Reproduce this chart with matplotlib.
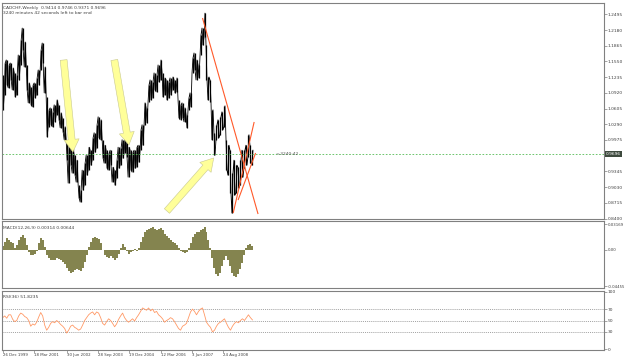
import matplotlib
matplotlib.use('Agg')
import matplotlib.pyplot as plt
import matplotlib.transforms as mtransforms
import numpy as np
import pandas as pd

plt.rcParams['font.family'] = ['DejaVu Sans']

# ---------------- data ----------------
start_date = pd.Timestamp('1999-12-26')
sample_step_weeks = 4.1   # each sample covers ~4 weekly bars

highs = [1.128, 1.152, 1.158, 1.148, 1.152, 1.142, 1.132, 1.128, 1.168, 1.198,
         1.222, 1.194, 1.148, 1.112, 1.104, 1.108, 1.112, 1.122, 1.138, 1.178,
         1.192, 1.144, 1.084, 1.058, 1.062, 1.054, 1.068, 1.078, 1.068, 1.052,
         1.042, 1.024, 0.998, 0.987, 0.991, 0.981, 0.967, 0.957, 0.907, 0.897,
         0.937, 0.951, 0.967, 0.983, 0.977, 1.002, 1.012, 1.028, 1.044, 1.038,
         0.998, 0.987, 0.977, 0.971, 0.977, 0.943, 0.937, 0.957, 0.983, 0.981,
         0.998, 1.004, 0.998, 0.983, 0.977, 0.973, 0.977, 0.983, 0.987, 1.018,
         1.028, 1.072, 1.062, 1.108, 1.118, 1.114, 1.132, 1.128, 1.148, 1.158,
         1.132, 1.122, 1.118, 1.114, 1.122, 1.124, 1.118, 1.122, 1.078, 1.068,
         1.072, 1.062, 1.048, 1.082, 1.092, 1.162, 1.172, 1.158, 1.148, 1.208,
         1.222, 1.252, 1.188, 1.124, 1.118, 1.058, 1.012, 1.028, 1.038, 1.044,
         1.054, 1.066, 0.998, 0.987, 0.977, 0.931, 0.957, 0.947, 0.943, 0.957,
         0.977, 0.977, 0.987, 1.008, 0.987, 0.977]
lows = [1.058, 1.088, 1.108, 1.102, 1.118, 1.098, 1.084, 1.088, 1.118, 1.148,
        1.178, 1.144, 1.098, 1.072, 1.068, 1.064, 1.082, 1.088, 1.108, 1.138,
        1.152, 1.092, 1.004, 1.024, 1.028, 1.024, 1.034, 1.048, 1.038, 1.022,
        1.014, 0.998, 0.957, 0.911, 0.947, 0.931, 0.927, 0.913, 0.881, 0.873,
        0.897, 0.907, 0.927, 0.937, 0.947, 0.957, 0.973, 0.981, 1.002, 0.998,
        0.961, 0.951, 0.941, 0.937, 0.947, 0.913, 0.907, 0.921, 0.941, 0.947,
        0.961, 0.971, 0.963, 0.923, 0.937, 0.933, 0.941, 0.943, 0.953, 0.977,
        0.987, 1.028, 1.032, 1.074, 1.078, 1.082, 1.098, 1.094, 1.114, 1.118,
        1.084, 1.088, 1.078, 1.082, 1.088, 1.098, 1.092, 1.094, 1.042, 1.038,
        1.042, 1.034, 1.022, 1.058, 1.064, 1.132, 1.138, 1.118, 1.122, 1.168,
        1.188, 1.204, 1.118, 1.078, 1.074, 0.998, 0.967, 0.998, 1.002, 1.008,
        1.018, 1.024, 0.937, 0.927, 0.891, 0.851, 0.887, 0.891, 0.901, 0.907,
        0.923, 0.941, 0.947, 0.963, 0.951, 0.947]

macd_hist = [5, 10, 14, 12, 10, 8, 2, 6, 12, 16,
             18, 14, 6, -3, -6, -7, -5, -2, 8, 14,
             12, 3, -6, -10, -12, -13, -12, -10, -11, -13,
             -15, -18, -22, -26, -28, -27, -25, -24, -25, -26,
             -22, -15, -6, 3, 10, 14, 16, 15, 13, 8,
             0, -6, -9, -10, -8, -10, -12, -10, -5, 2,
             7, 4, -2, -5, -3, -1, 1, -1, 2, 10,
             16, 22, 24, 26, 27, 28, 26, 24, 25, 27,
             24, 20, 17, 14, 12, 10, 8, 6, 2, -2,
             -3, -4, -3, 2, 8, 16, 20, 22, 22, 24,
             26, 28, 22, 12, 2, -10, -22, -30, -32, -28,
             -20, -12, -8, -12, -20, -28, -32, -33, -30, -24,
             -16, -6, 2, 6, 7, 5]   # x 0.001

rsi_values = [55, 58, 54, 60, 60, 52, 48, 50, 58, 63,
              61, 57, 55, 50, 40, 44, 42, 47, 56, 64,
              58, 42, 33, 38, 45, 48, 46, 50, 47, 43,
              40, 36, 28, 33, 40, 42, 38, 36, 33, 35,
              42, 50, 55, 60, 63, 65, 60, 65, 63, 55,
              45, 42, 48, 53, 50, 45, 39, 44, 52, 58,
              63, 55, 50, 47, 50, 53, 49, 55, 60, 66,
              72, 70, 68, 72, 67, 70, 64, 66, 60, 57,
              53, 47, 50, 52, 55, 53, 48, 42, 36, 33,
              40, 42, 45, 55, 65, 70, 66, 60, 66, 70,
              72, 60, 47, 42, 38, 30, 33, 40, 45, 47,
              50, 53, 45, 38, 33, 40, 45, 48, 46, 50,
              53, 50, 55, 60, 55, 51]

date_labels = ['26 Dec 1999', '18 Mar 2001', '30 Jun 2002', '28 Sep 2003',
               '19 Dec 2004', '12 Mar 2006', '3 Jun 2007', '24 Aug 2008']
price_ticks = [1.2495, 1.2180, 1.1865, 1.1550, 1.1235, 1.0920, 1.0605,
               1.0290, 0.9975, 0.9345, 0.9030, 0.8715, 0.8400]
macd_ticks = [0.03169, 0.0, -0.04455]
macd_tick_labels = ['0.03169', '0.00', '-0.04455']
rsi_levels = [70, 50, 30]
rsi_ticks = [100, 70, 50, 30, 0]
last_close = 0.9696
header_line1 = 'CADCHF,Weekly  0.9414 0.9746 0.9371 0.9696'
header_line2 = '3240 minutes 42 seconds left to bar end'
macd_label = 'MACD(12,26,9) 0.00314 0.00644'
rsi_label = 'RSI(36) 51.8235'
timer_label = '<-3240:42'

# trend lines and arrows: (date, price) pairs
trend_lines = [(('2007-11-04', 1.2422), ('2010-01-10', 0.849)),
               (('2009-01-18', 0.851), ('2009-11-15', 1.0336)),
               (('2009-03-29', 0.877), ('2009-12-06', 0.9714))]
arrows = [(('2002-05-19', 1.158), ('2002-09-29', 0.9734)),
          (('2004-05-16', 1.158), ('2004-12-12', 0.9874)),
          (('2006-06-11', 0.855), ('2008-04-13', 0.9614))]

# ---------------- drawing ----------------
def weeks(d):
    return (pd.Timestamp(d) - start_date).days / 7.0

x = np.arange(len(highs)) * sample_step_weeks
W, H = 625, 360
fig = plt.figure(figsize=(W / 100, H / 100), dpi=100)
fig.patch.set_facecolor('white')

def px_axes(left, top, right, bottom):
    return fig.add_axes([left / W, 1 - bottom / H, (right - left) / W, (bottom - top) / H])

ax = px_axes(2, 3, 604, 219)
ax2 = px_axes(2, 221, 604, 288)
ax3 = px_axes(2, 291, 604, 350)

xlim = (-1.5, 1234)
frame_col = '#808080'
label_col = '#404040'
fs = 3.2

for a in (ax, ax2, ax3):
    a.set_xlim(*xlim)
    a.set_facecolor('white')
    for s in a.spines.values():
        s.set_color(frame_col)
        s.set_linewidth(0.8)
    a.yaxis.tick_right()
    a.tick_params(axis='y', direction='out', length=2.0, width=0.5, colors=frame_col,
                  labelcolor=label_col, labelsize=fs, pad=0.8)
    a.tick_params(axis='x', bottom=False, labelbottom=False)

# main price panel
ax.set_ylim(0.839, 1.2723)
ax.vlines(x, lows, highs, color='black', lw=0.9)
zig_x = np.repeat(x, 2) + np.tile([-1.0, 1.0], len(x))
zig_y = np.ravel([(h, l) if i % 2 == 0 else (l, h) for i, (h, l) in enumerate(zip(highs, lows))])
ax.plot(zig_x, zig_y, color='black', lw=0.6)
ax.axhline(last_close, color='#55bb55', lw=0.6, ls=(0, (2, 2)))
ax.set_yticks(price_ticks)
ax.set_yticklabels([f'{v:.4f}' for v in price_ticks])
for (d0, p0), (d1, p1) in trend_lines:
    ax.plot([weeks(d0), weeks(d1)], [p0, p1], color='#ff5a2a', lw=0.8, solid_capstyle='butt')
for (d0, p0), (d1, p1) in arrows:
    ax.annotate('', xy=(weeks(d1), p1), xytext=(weeks(d0), p0),
                arrowprops=dict(arrowstyle='simple,head_width=1.2,head_length=1.0,tail_width=0.55',
                                fc='#ffff99', ec='#c8c890', lw=0.4, shrinkA=0, shrinkB=0,
                                mutation_scale=9))
ax.text(weeks('2010-09-12'), last_close, timer_label, fontsize=fs, color='#505050',
        ha='left', va='center')
trans = mtransforms.blended_transform_factory(ax.transAxes, ax.transData)
ax.text(1.003, last_close, f'{last_close:.4f}', transform=trans, fontsize=fs,
        color='white', ha='left', va='center',
        bbox=dict(fc='#3e4a3e', ec='none', pad=0.5))
ax.text(0.002, 0.985, header_line1, transform=ax.transAxes, fontsize=fs, color=label_col,
        ha='left', va='top')
ax.text(0.002, 0.962, header_line2, transform=ax.transAxes, fontsize=fs, color=label_col,
        ha='left', va='top')

# MACD panel
ax2.set_ylim(-0.047, 0.0354)
ax2.bar(x, np.array(macd_hist) * 1e-3, width=sample_step_weeks, color='#84844f', linewidth=0)
ax2.set_yticks(macd_ticks)
ax2.set_yticklabels(macd_tick_labels)
ax2.tick_params(axis='y', labelsize=2.8, pad=0.5)
ax2.text(0.002, 0.93, macd_label, transform=ax2.transAxes, fontsize=fs, color=label_col,
         ha='left', va='top')

# RSI panel
ax3.set_ylim(-1.75, 101.75)
for lv in rsi_levels:
    ax3.axhline(lv, color='#808080', lw=0.5, ls=(0, (1.5, 1.5)))
ax3.plot(x, rsi_values, color='#ff9966', lw=0.6)
ax3.set_yticks(rsi_ticks)
ax3.set_yticklabels([str(v) for v in rsi_ticks])
ax3.text(0.002, 0.93, rsi_label, transform=ax3.transAxes, fontsize=fs, color=label_col,
         ha='left', va='top')
ax3.tick_params(axis='x', bottom=True, labelbottom=True, direction='out', length=2.0,
                width=0.5, colors=frame_col, labelcolor=label_col, labelsize=2.8, pad=0.5)
ax3.set_xticks([weeks(pd.Timestamp(d)) for d in date_labels])
ax3.set_xticklabels(date_labels)
for t in ax3.get_xticklabels():
    t.set_ha('left')

fig.savefig('out.png', dpi=100, facecolor='white')
